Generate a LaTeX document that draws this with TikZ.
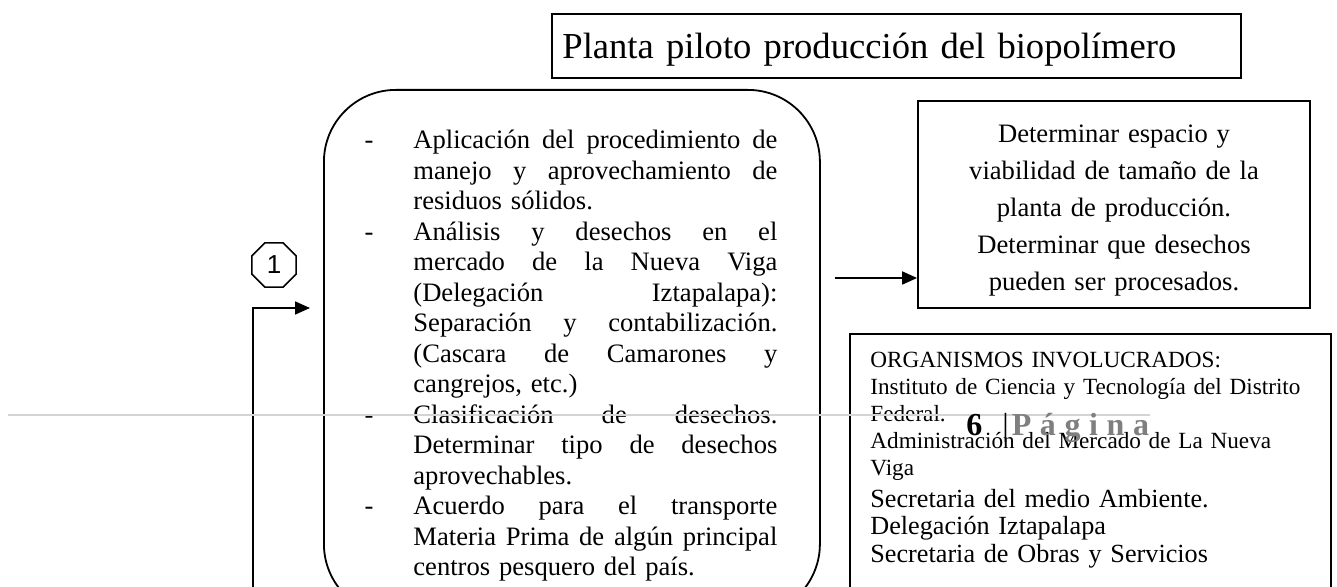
\documentclass[tikz,border=0pt]{standalone}
\usepackage{fontspec}
\setmainfont{Liberation Serif}
\newfontfamily\sansnum{Liberation Sans}
\usetikzlibrary{arrows.meta,positioning,shapes.geometric}
\definecolor{rulegray}{RGB}{212,212,212}
\definecolor{pagegray}{RGB}{127,127,127}
\newcommand{\dashitem}{\makebox[0pt][r]{-\hspace{20pt}}}
\newcommand{\jline}[1]{\leavevmode\hbox to 182pt{#1}}
\setlength{\parindent}{0pt}

\begin{document}
\begin{tikzpicture}[
  x=0.5pt, y=-0.5pt,
  box/.style={rectangle, draw, line width=0.9pt, inner sep=0pt},
  arrow/.style={-{Triangle[length=7.5pt, width=6.5pt]}, line width=0.9pt},
  txt/.style={inner sep=0pt, align=left},
  body/.style={font=\fontsize{13.3}{15.25}\selectfont}
]

% Page area
\useasboundingbox (0,0) rectangle (1337,587);
\clip (0,0) rectangle (1337,587);

% Title
\node[box, anchor=west, minimum height=32pt, text width=334pt, inner xsep=5.25pt, align=left, text depth=0pt, font=\fontsize{18.3}{20}\selectfont] (title) at (551,46) {\mbox{Planta piloto producción del biopolímero}};

% Activities (rounded box)
\node[box, rounded corners=36pt, anchor=north west, minimum width=248pt, minimum height=263pt] (plan) at (323,89) {};
\node[txt, body, anchor=base west, text width=182pt] (plantext) at (413,149) {%
\dashitem\jline{Aplicación \hfill del \hfill procedimiento \hfill de}\\
\jline{manejo \hfill y \hfill aprovechamiento \hfill de}\\
residuos sólidos.\\
\dashitem\jline{Análisis \hfill y \hfill desechos \hfill en \hfill el}\\
\jline{mercado \hfill de \hfill la \hfill Nueva \hfill Viga}\\
\jline{(Delegación \hfill Iztapalapa):}\\
\jline{Separación \hfill y \hfill contabilización.}\\
\jline{(Cascara \hfill de \hfill Camarones \hfill y}\\
cangrejos, etc.)\\
\dashitem\jline{Clasificación \hfill de \hfill desechos.}\\
\jline{Determinar \hfill tipo \hfill de \hfill desechos}\\
aprovechables.\\
\dashitem\jline{Acuerdo \hfill para \hfill el \hfill transporte}\\
\jline{Materia \hfill Prima \hfill de \hfill algún \hfill principal}\\
centros pesquero del país.};

% Result box
\node[box, minimum width=196pt, minimum height=103.5pt, text width=180pt, align=center, text height=14.5pt, font=\fontsize{13.3}{18.5}\selectfont] (goal) at (1114,204.5) {Determinar espacio y\\ viabilidad de tamaño de la\\ planta de producción.\\ Determinar que desechos\\ pueden ser procesados.};

% Arrow to result
\coordinate (out1) at (835,278);
\draw[arrow] (out1) -- (out1 -| goal.west);

% Step marker
\node[draw, line width=0.8pt, regular polygon, regular polygon sides=8, minimum size=24pt, inner sep=0pt, font=\sansnum\fontsize{13}{13}\selectfont] (num1) at (274,265) {1};

% Entry arrow
\coordinate (loopin) at (253,600);
\coordinate (loopend) at (310,308);
\draw[arrow] (loopin) |- (loopend);

% Organisms
\node[box, anchor=north west, minimum width=240.5pt, minimum height=143.5pt] (orgbox) at (849,333) {};
\node[txt, anchor=base west, text width=230pt, font=\fontsize{11.6}{13.5}\selectfont] (orgtop) at (870,367) {ORGANISMOS INVOLUCRADOS:\\ Instituto de Ciencia y Tecnología del Distrito\\ Federal.\\ Administración del Mercado de La Nueva\\ Viga};
\node[txt, anchor=base west, text width=230pt, font=\fontsize{13.1}{13.75}\selectfont] (orgbottom) at (870,507) {Secretaria del medio Ambiente.\\ Delegación Iztapalapa\\ Secretaria de Obras y Servicios};

% Page footer
\draw[rulegray, line width=1pt] (8,415) -- (1150,415);
\node[txt, anchor=base west, font=\fontsize{16}{16}\selectfont\bfseries] (pagenum) at (966,435) {6\kern10pt{\mdseries|}\kern1.5pt\textcolor{pagegray}{P\kern4.3pt á\kern4.3pt g\kern4.3pt i\kern4.3pt n\kern4.3pt a}};

\end{tikzpicture}
\end{document}
